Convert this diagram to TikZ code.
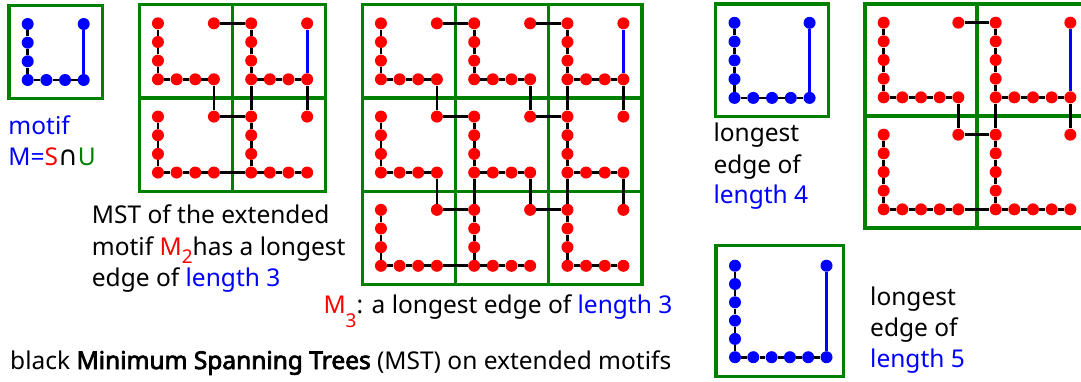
\documentclass[tikz,border=0pt]{standalone}
\usepackage{fontspec}
\setmainfont{Noto Sans}[AutoFakeBold=3]
\newfontfamily\symfont{DejaVu Sans}
\definecolor{boxgreen}{RGB}{0,128,0}

\tikzset{
  dot/.style={circle, fill=#1, draw=none, inner sep=0pt, minimum size=12pt},
  mst/.style={black, line width=2.8pt},
  longedge/.style={blue, line width=3.3pt},
  cellframe/.style={draw=boxgreen, line width=3.2pt},
  lbl/.style={anchor=base west, inner sep=0pt, font=\fontsize{24.5}{31}\selectfont},
}

% dots of one motif of length #4: left column, bottom row and the top-right dot,
% with the black unit edges of the L; origin (#2,#3) is the bottom-left dot
\newcommand\motifdots[6]{%
  \foreach \i in {0,...,#4}{\node[dot=#6] (#1-0-\i) at ({#2},{#3-\i*#5}) {};}
  \foreach \i in {1,...,#4}{\node[dot=#6] (#1-\i-0) at ({#2+\i*#5},{#3}) {};}
  \node[dot=#6] (#1-#4-#4) at ({#2+#4*#5},{#3-#4*#5}) {};
  \foreach \j [evaluate=\j as \i using int(\j-1)] in {1,...,#4}{
    \draw[mst] (#1-0-\i) -- (#1-0-\j);
    \draw[mst] (#1-\i-0) -- (#1-\j-0);
  }%
}
% square cell frame with top-left corner (#1,#2) and side #3
\newcommand\frameat[3]{\draw[cellframe] ({#1},{#2}) rectangle ++({#3},{#3});}
\newcommand\lowsub[2]{\raisebox{-#1}[\height][0pt]{\fontsize{19}{19}\selectfont #2}}

\begin{document}
\begin{tikzpicture}[x=1pt, y=-1pt]
\path[use as bounding box] (0,0) rectangle (1081,381);
\clip (0,0) rectangle (1081,381);

% ---- motif M (length 3)
\frameat{9.0}{5.3}{93.35}
\motifdots{m}{27.7}{80}{3}{18.67}{blue}
\draw[longedge] (m-3-0) -- (m-3-3);

% ---- extended motif M2
\foreach \c in {0,1}{\foreach \r in {0,1}{
  \frameat{139.3+93.25*\c}{4.7+93.25*\r}{93.25}
  \motifdots{b\c\r}{157.95+93.25*\c}{79.3+93.25*\r}{3}{18.65}{red}
}}
\draw[longedge] (b10-3-0) -- (b10-3-3);
\draw[mst] (b00-3-3) -- (b10-0-3);
\draw[mst] (b00-3-0) -- (b01-3-3);
\draw[mst] (b01-3-3) -- (b11-0-3);
\draw[mst] (b10-0-0) -- (b11-0-3);
\draw[mst] (b01-3-0) -- (b11-0-0);
\draw[mst] (b10-3-0) -- (b11-3-3);

% ---- extended motif M3
\foreach \c in {0,1,2}{\foreach \r in {0,1,2}{
  \frameat{362.3+93.25*\c}{4.7+93.25*\r}{93.25}
  \motifdots{g\c\r}{380.95+93.25*\c}{79.3+93.25*\r}{3}{18.65}{red}
}}
\draw[longedge] (g20-3-0) -- (g20-3-3);
\draw[mst] (g00-3-3) -- (g10-0-3);
\draw[mst] (g00-3-0) -- (g01-3-3);
\draw[mst] (g01-3-3) -- (g11-0-3);
\draw[mst] (g10-3-3) -- (g20-0-3);
\draw[mst] (g10-3-0) -- (g11-3-3);
\draw[mst] (g11-3-3) -- (g21-0-3);
\draw[mst] (g20-0-0) -- (g21-0-3);
\draw[mst] (g20-3-0) -- (g21-3-3);
\draw[mst] (g01-3-0) -- (g02-3-3);
\draw[mst] (g02-3-3) -- (g12-0-3);
\draw[mst] (g11-0-0) -- (g12-0-3);
\draw[mst] (g11-3-0) -- (g12-3-3);
\draw[mst] (g12-3-3) -- (g22-0-3);
\draw[mst] (g21-0-0) -- (g22-0-3);
\draw[mst] (g21-3-0) -- (g22-3-3);
\draw[mst] (g02-3-0) -- (g12-0-0);

% ---- motif of length 4
\frameat{715.7}{4}{112.6}
\motifdots{p}{734.5}{97.9}{4}{18.77}{blue}
\draw[longedge] (p-4-0) -- (p-4-4);

% ---- extended motif of length 4
\foreach \c in {0,1}{\foreach \r in {0,1}{
  \frameat{865+112*\c}{4+112*\r}{112}
  \motifdots{h\c\r}{883.67+112*\c}{97.35+112*\r}{4}{18.67}{red}
}}
\draw[longedge] (h10-4-0) -- (h10-4-4);
\draw[mst] (h00-4-4) -- (h10-0-4);
\draw[mst] (h00-4-0) -- (h01-4-4);
\draw[mst] (h01-4-4) -- (h11-0-4);
\draw[mst] (h10-0-0) -- (h11-0-4);
\draw[mst] (h01-4-0) -- (h11-0-0);
\draw[mst] (h10-4-0) -- (h11-4-4);

% ---- motif of length 5
\draw[cellframe] (716,245.7) rectangle (843.3,376.7);
\motifdots{q}{735}{357.2}{5}{18.3}{blue}
\draw[longedge] (q-5-0) -- (q-5-5);

% ---- labels
\node[lbl, text=blue] (tmotif) at (8.3,134) {motif};
\node[lbl] (teq) at (8.3,165.7) {\textcolor{blue}{M=}\textcolor{red}{S}{\symfont\fontsize{27}{27}\selectfont ∩}\textcolor{boxgreen}{U}};

\node[lbl] (ta1) at (91.7,223.3) {MST of the extended};
\node[lbl] (ta2) at (91.7,255) {motif \textcolor{red}{M\lowsub{8pt}{2}}has a longest};
\node[lbl] (ta3) at (91.7,286.5) {edge of \textcolor{blue}{length 3}};

\node[lbl] (tb) at (323.3,313.3) {\textcolor{red}{M\lowsub{14pt}{3}}: a longest edge of \textcolor{blue}{length 3}};

\node[lbl] (tc) at (10,369) {black \textbf{Minimum Spanning Trees} (MST) on extended motifs};

\node[lbl] (td1) at (713.3,141.7) {longest};
\node[lbl] (td2) at (713.3,173.3) {edge of};
\node[lbl, text=blue] (td3) at (713.3,203.3) {length 4};

\node[lbl] (te1) at (870,305.7) {longest};
\node[lbl] (te2) at (870,336.7) {edge of};
\node[lbl, text=blue] (te3) at (870,367.7) {length 5};
\end{tikzpicture}
\end{document}
